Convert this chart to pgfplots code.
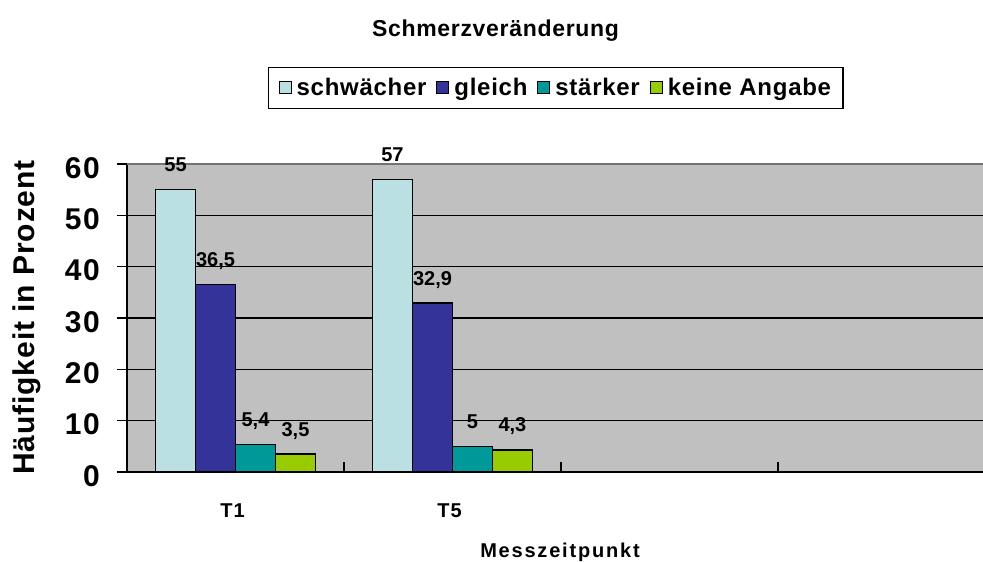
\documentclass[border=0pt]{standalone}
\usepackage{fontspec}
\setmainfont{Liberation Sans}
\newfontfamily\lsp{Liberation Sans}[LetterSpace=3]
\newfontfamily\lspm{Liberation Sans}[LetterSpace=5]
\newfontfamily\lspw{Liberation Sans}[LetterSpace=9]
\usepackage{pgfplots}
\pgfplotsset{compat=1.18}
\definecolor{bggrey}{HTML}{C0C0C0}
\definecolor{cschw}{HTML}{BBE0E3}
\definecolor{cgleich}{HTML}{333399}
\definecolor{cstark}{HTML}{009999}
\definecolor{ckeine}{HTML}{99CC00}

\begin{document}
\begin{tikzpicture}
\useasboundingbox (0,0) rectangle (983bp,562bp);
\begin{axis}[
  at={(127bp,90bp)}, anchor=south west,
  scale only axis, width=856bp, height=308bp,
  clip=false,
  axis background/.style={fill=bggrey},
  ybar=0pt, bar width=0.1843,
  xmin=-0.5, xmax=3.445,
  ymin=0, ymax=60,
  axis x line*=bottom, axis y line*=left,
  axis line style={black, line width=1.8bp},
  tick align=inside,
  ytick={0,10,...,50},
  extra y ticks={60},
  extra y tick style={grid style={color=gray!90!black, line width=1.4bp}},
  ymajorgrids,
  grid style={black, line width=1.6bp},
  major tick length=10bp,
  ytick style={black, line width=1.4bp, xshift=-10bp},
  xtick={0.5,1.5,2.5}, xticklabels={},
  xtick style={black, line width=1.4bp},
  extra x ticks={0,1},
  extra x tick labels={T1,T5},
  extra x tick style={tick style={draw=none}, grid=none},
  /pgf/number format/assume math mode=true,
  /pgf/number format/use comma,
  yticklabel style={font=\fontsize{30bp}{32bp}\selectfont\lspm\bfseries, anchor=east, inner sep=0pt, xshift=-27bp, yshift=-4bp},
  xticklabel style={font=\fontsize{20bp}{22bp}\selectfont\lspm\bfseries, anchor=base, inner sep=0pt, yshift=-45bp, xshift=-3bp},
  nodes near coords,
  every node near coord/.append style={font=\fontsize{20bp}{22bp}\selectfont\bfseries, anchor=base, inner sep=0pt, yshift=18bp, black},
  title={Schmerzveränderung},
  title style={at={(0.4305,1.395)}, anchor=base, inner sep=0pt, font=\fontsize{23bp}{25bp}\selectfont\lsp\bfseries},
  xlabel={Messzeitpunkt},
  xlabel style={at={(axis description cs:0.5058,-0.276)}, anchor=base, inner sep=0pt, font=\fontsize{20bp}{22bp}\selectfont\lspw\bfseries},
  ylabel={Häufigkeit in Prozent},
  ylabel style={at={(axis description cs:-0.1085,0.5016)}, anchor=base, rotate=0, inner sep=0pt, font=\fontsize{30bp}{32bp}\selectfont\lsp\bfseries},
  legend columns=4,
  legend image code/.code={\draw[#1, draw=black, line width=1bp] (0bp,-6bp) rectangle (12bp,6bp);},
  legend style={at={(0.501,1.247)}, anchor=center, draw=black, line width=1.4bp,
    font=\fontsize{24bp}{26bp}\selectfont\lsp\bfseries,
    inner xsep=10bp, inner ysep=9bp,
    nodes={inner sep=2bp},
    /tikz/every odd column/.append style={column sep=3bp},
    /tikz/every even column/.append style={column sep=8bp}},
]
\addplot[fill=cschw, draw=black, line width=1.4bp] coordinates {(0,55) (1,57)};
\addplot[fill=cgleich, draw=black, line width=1.4bp] coordinates {(0,36.5) (1,32.9)};
\addplot[fill=cstark, draw=black, line width=1.4bp] coordinates {(0,5.4) (1,5)};
\addplot[fill=ckeine, draw=black, line width=1.4bp] coordinates {(0,3.5) (1,4.3)};
\legend{schwächer,gleich,stärker,keine Angabe}
\end{axis}
\end{tikzpicture}
\end{document}
